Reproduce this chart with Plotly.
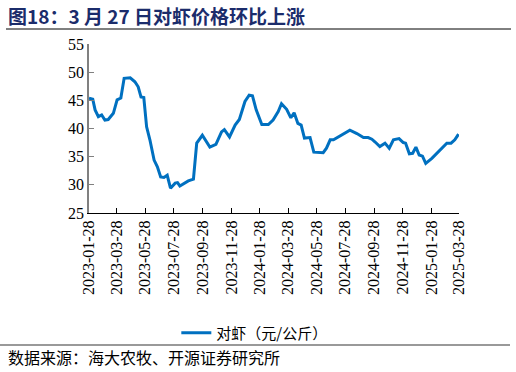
import plotly.graph_objects as go

dates = [
    "2023-01-28", "2023-02-05", "2023-02-10", "2023-02-17", "2023-02-24", "2023-03-03",
    "2023-03-10", "2023-03-21", "2023-03-29", "2023-04-06", "2023-04-13", "2023-04-26",
    "2023-05-06", "2023-05-13", "2023-05-19", "2023-05-25", "2023-05-31", "2023-06-07",
    "2023-06-16", "2023-06-23", "2023-06-30", "2023-07-07", "2023-07-14", "2023-07-21",
    "2023-07-31", "2023-08-05", "2023-08-10", "2023-08-28", "2023-09-08", "2023-09-15",
    "2023-09-27", "2023-10-13", "2023-10-26", "2023-11-07", "2023-11-13", "2023-11-24",
    "2023-12-06", "2023-12-15", "2023-12-27", "2024-01-05", "2024-01-12", "2024-01-20",
    "2024-02-01", "2024-02-15", "2024-02-25", "2024-03-07", "2024-03-14", "2024-03-25",
    "2024-04-03", "2024-04-10", "2024-04-18", "2024-04-25", "2024-05-02", "2024-05-14",
    "2024-05-22", "2024-06-11", "2024-06-18", "2024-06-26", "2024-07-03", "2024-07-17",
    "2024-07-28", "2024-08-01", "2024-08-07", "2024-08-22", "2024-09-05", "2024-09-15",
    "2024-09-23", "2024-09-30", "2024-10-10", "2024-10-21", "2024-10-30", "2024-11-08",
    "2024-11-20", "2024-11-29", "2024-12-04", "2024-12-12", "2024-12-19", "2024-12-26",
    "2025-01-02", "2025-01-09", "2025-01-16", "2025-01-29", "2025-02-08", "2025-02-21",
    "2025-03-02", "2025-03-11", "2025-03-19", "2025-03-27",
]
prices = [
    45.4, 45.2, 43.3, 42.1, 42.4, 41.5,
    41.6, 42.7, 45.1, 45.4, 48.9, 49.0,
    48.3, 47.4, 45.6, 45.5, 40.3, 38.0,
    34.4, 33.2, 31.4, 31.3, 31.7, 29.4,
    30.3, 30.4, 29.8, 30.7, 31.0, 37.4,
    38.8, 36.7, 37.2, 39.4, 39.8, 38.5,
    40.6, 41.6, 44.8, 45.9, 45.8, 43.3,
    40.7, 40.7, 41.5, 43.0, 44.4, 43.4,
    41.9, 42.8, 40.9, 40.6, 38.3, 38.4,
    35.8, 35.7, 36.5, 38.0, 38.0, 38.7,
    39.2, 39.3, 39.7, 39.1, 38.4, 38.4,
    38.1, 37.6, 36.8, 37.4, 36.5, 38.0,
    38.2, 37.5, 37.4, 35.5, 35.6, 36.7,
    35.3, 35.1, 33.8, 34.7, 35.5, 36.5,
    37.4, 37.4, 38.0, 39.0,
]
tick_vals = [
    "2023-01-28", "2023-03-28", "2023-05-28", "2023-07-28", "2023-09-28", "2023-11-28",
    "2024-01-28", "2024-03-28", "2024-05-28", "2024-07-28", "2024-09-28", "2024-11-28",
    "2025-01-28", "2025-03-28",
]
y_ticks = [25, 30, 35, 40, 45, 50, 55]

series_name = "对虾（元/公斤）"
title_text = "图18：3 月 27 日对虾价格环比上涨"
source_text = "数据来源：海大农牧、开源证券研究所"

CJK = "Noto Sans CJK SC"
SERIF = "Liberation Serif, Times New Roman, DejaVu Serif, serif"

fig = go.Figure()
fig.add_trace(go.Scatter(
    x=dates, y=prices, mode="lines", name=series_name,
    line=dict(color="#0070C0", width=3),
))

fig.update_layout(
    width=516, height=372,
    margin=dict(l=89, r=57, t=44, b=159),
    paper_bgcolor="white", plot_bgcolor="white",
    showlegend=True,
    legend=dict(
        orientation="h", x=0.236, xanchor="left", y=-0.71, yanchor="middle",
        font=dict(family=CJK, size=15, color="#000"),
        bgcolor="rgba(0,0,0,0)",
    ),
    title=dict(
        text="<b>" + title_text + "</b>",
        xref="container", x=8 / 516, xanchor="left",
        yref="container", y=1 - 17 / 372, yanchor="middle",
        font=dict(family=CJK, size=19, color="#1B2C6B"),
    ),
    xaxis=dict(
        type="date",
        range=["2023-01-28", "2025-03-28"],
        tickvals=tick_vals, ticktext=tick_vals,
        tickangle=-90,
        ticks="inside", ticklen=5, tickcolor="#000", tickwidth=1,
        showline=True, linecolor="#000", linewidth=1,
        showgrid=False, zeroline=False,
        tickfont=dict(family=SERIF, size=16, color="#000"),
    ),
    yaxis=dict(
        range=[25, 55], tickvals=y_ticks,
        ticks="inside", ticklen=5, tickcolor="#808080", tickwidth=1,
        showline=True, linecolor="#808080", linewidth=1.5,
        showgrid=False, zeroline=False,
        tickfont=dict(family=SERIF, size=16, color="#000"),
    ),
    shapes=[
        dict(type="line", xref="paper", yref="paper",
             x0=(6 - 89) / 370, x1=(511 - 89) / 370,
             y0=(213 - 29) / 169, y1=(213 - 29) / 169,
             line=dict(color="#000", width=1)),
        dict(type="line", xref="paper", yref="paper",
             x0=(0 - 89) / 370, x1=(510 - 89) / 370,
             y0=(213 - 345) / 169, y1=(213 - 345) / 169,
             line=dict(color="#999", width=2)),
    ],
    annotations=[
        dict(text=source_text, xref="paper", yref="paper",
             x=(6 - 89) / 370, y=(213 - 357) / 169,
             xanchor="left", yanchor="middle", showarrow=False,
             font=dict(family=CJK, size=16, color="#000")),
    ],
)

fig.write_html(
    "out.html",
    config={"displayModeBar": False},
    post_script="document.body.style.margin='0';document.body.style.overflow='hidden';",
)
